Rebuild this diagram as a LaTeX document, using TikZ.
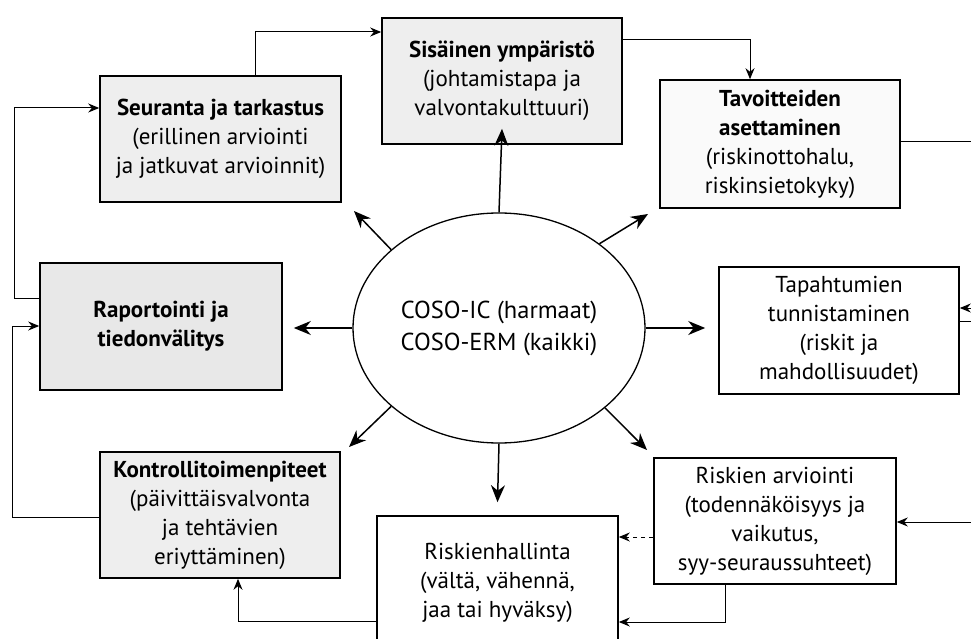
\documentclass[tikz,border=0pt]{standalone}
\usepackage{fontspec}
\setmainfont{PT Sans}
\usetikzlibrary{arrows.meta,shapes.geometric,calc}
\begin{document}
\begin{tikzpicture}[x=1pt,y=-1pt,
  box/.style={draw, line width=1.6pt, align=center, inner sep=0pt,
    minimum width=241pt, minimum height=126pt,
    font=\fontsize{23}{29}\selectfont},
  graybox/.style={box, fill=gray!13},
  conn/.style={line width=1pt},
  carrow/.style={conn, -{Stealth[length=11pt,width=9pt]}},
  earrow/.style={line width=1.5pt, -{Stealth[length=17pt,width=14pt]}},
]
\useasboundingbox (0,0) rectangle (971,639);
\clip (0,0) rectangle (971,639);

% boxes
\node[graybox] (seur) at (220.5,139) {\textbf{Seuranta ja tarkastus}\\(erillinen arviointi\\ja jatkuvat arvioinnit)};
\node[graybox, minimum width=240pt] (sis) at (502,81) {\textbf{Sisäinen ympäristö}\\(johtamistapa ja\\valvontakulttuuri)};
\node[box, fill=gray!4, minimum width=240pt, minimum height=128pt] (tav) at (780,144) {\textbf{Tavoitteiden}\\\textbf{asettaminen}\\(riskinottohalu,\\riskinsietokyky)};
\node[graybox, fill=gray!18, minimum width=242pt, minimum height=127pt] (rap) at (161,326.5) {\textbf{Raportointi ja}\\\textbf{tiedonvälitys}};
\node[box, minimum width=240pt, minimum height=127pt] (tap) at (839,330.5) {Tapahtumien\\tunnistaminen\\(riskit ja\\mahdollisuudet)};
\node[graybox, minimum width=240pt] (kon) at (220,515) {\textbf{Kontrollitoimenpiteet}\\(päivittäisvalvonta\\ja tehtävien\\eriyttäminen)};
\node[box, minimum width=241pt, minimum height=134pt] (rh) at (497.5,583) {Riskienhallinta\\(vältä, vähennä,\\jaa tai hyväksy)};
\node[box, minimum width=242pt] (ra) at (775,521) {Riskien arviointi\\(todennäköisyys ja\\vaikutus,\\syy-seuraussuhteet)};

% central ellipse
\node[ellipse, draw, line width=1.3pt, minimum width=292pt, minimum height=230pt, inner sep=0pt,
  align=center, font=\fontsize{24.5}{32}\selectfont] (ell) at (499,328) {COSO-IC (harmaat)\\COSO-ERM (kaikki)};

% arrow tips of the radial arrows
\coordinate (tUR) at (648,214);
\coordinate (tUL) at (354,211);
\coordinate (tLL) at (349,447);
\coordinate (tLR) at (647,450);

\draw[earrow] (ell.north) -- ([yshift=16pt]sis.south);
\draw[earrow] (ell.south) -- ([yshift=13pt]rh.north);
\draw[earrow] (ell.west) -- ([xshift=11pt]rap.east |- ell.west);
\draw[earrow] (ell.east) -- ([xshift=-13pt]tap.west |- ell.east);
\draw[earrow] (ell.40.6) -- (tUR);
\draw[earrow] (ell.144) -- (tUL);
\draw[earrow] (ell.216) -- (tLL);
\draw[earrow] (ell.323) -- (tLR);

% bend points and free ends
\coordinate (k1) at (255,32);
\coordinate (k2) at (750,40);
\coordinate (e1) at (971,142);
\coordinate (e2) at (971,308);
\coordinate (e3) at (971,321);
\coordinate (e4) at (971,522);
\coordinate (k3) at (700,537);
\coordinate (k4) at (725,622);
\coordinate (k5) at (238,621);
\coordinate (k6) at (12,517);
\coordinate (k7) at (12,326);
\coordinate (k8) at (14,298);
\coordinate (k9) at (14,108);

\draw[carrow] (seur.north -| k1) |- (sis.west |- k1);
\draw[carrow] (sis.east |- k2) -| (tav.north -| k2);
\draw[conn] (tav.east |- e1) -- (e1);
\draw[carrow] (e2) -- (tap.east |- e2);
\draw[conn] (tap.east |- e3) -- (e3);
\draw[carrow] (e4) -- (ra.east |- e4);
\draw[carrow, dash pattern=on 4pt off 4pt] (ra.west |- k3) -- (rh.east |- k3);
\draw[carrow] (ra.south -| k4) |- (rh.east |- k4);
\draw[carrow] (rh.west |- k5) -| (kon.south -| k5);
\draw[carrow] (kon.west |- k6) -- (k6) -- (k7) -- (rap.west |- k7);
\draw[carrow] (rap.west |- k8) -- (k8) -- (k9) -- (seur.west |- k9);
\end{tikzpicture}
\end{document}
